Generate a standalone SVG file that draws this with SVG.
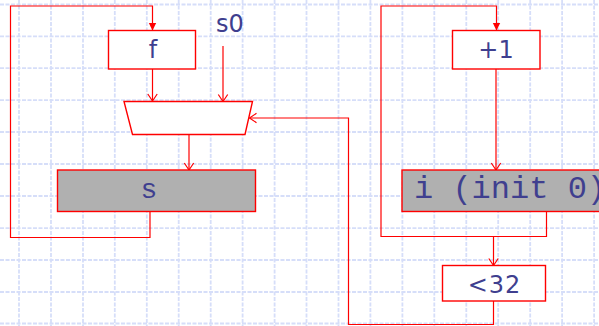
<svg xmlns="http://www.w3.org/2000/svg" width="599" height="326" viewBox="0 0 599 326">
<style>
.grid line{stroke:#d6def9;stroke-width:1.8;stroke-dasharray:4 1.5}
.box{fill:#fff;stroke:#f00;stroke-width:1.4}
.reg{fill:#b0b0b0;stroke:#f00;stroke-width:1.4}
.sans{font-family:"DejaVu Sans",Verdana,sans-serif;font-size:24px;fill:#3f3f8f;text-anchor:middle}
.mono{font-family:"Liberation Mono","Courier New",monospace;font-size:28px;fill:#3f3f8f}
.con{fill:none;stroke:#f00;stroke-width:1.2}
</style>
<defs>
<marker id="open" markerUnits="userSpaceOnUse" markerWidth="12" markerHeight="12" viewBox="0 0 12 12" refX="10" refY="6" orient="auto">
<path d="M3,1.3 L10,6 L3,10.7" fill="none" stroke="#f00" stroke-width="1.2"/>
</marker>
<marker id="fill" markerUnits="userSpaceOnUse" markerWidth="12" markerHeight="12" viewBox="0 0 12 12" refX="10" refY="6" orient="auto">
<path d="M2.5,2.3 L10,6 L2.5,9.7 Z" fill="#f00"/>
</marker>
</defs>
<rect width="599" height="326" fill="#fff"/>
<g class="grid">
<line x1="19" y1="0" x2="19" y2="326"/><line x1="51" y1="0" x2="51" y2="326"/><line x1="83" y1="0" x2="83" y2="326"/><line x1="114.8" y1="0" x2="114.8" y2="326"/><line x1="146.8" y1="0" x2="146.8" y2="326"/><line x1="178.7" y1="0" x2="178.7" y2="326"/><line x1="210.7" y1="0" x2="210.7" y2="326"/><line x1="242.6" y1="0" x2="242.6" y2="326"/><line x1="274.6" y1="0" x2="274.6" y2="326"/><line x1="306.5" y1="0" x2="306.5" y2="326"/><line x1="338.5" y1="0" x2="338.5" y2="326"/><line x1="370.4" y1="0" x2="370.4" y2="326"/><line x1="402.4" y1="0" x2="402.4" y2="326"/><line x1="434.3" y1="0" x2="434.3" y2="326"/><line x1="466.3" y1="0" x2="466.3" y2="326"/><line x1="498.2" y1="0" x2="498.2" y2="326"/><line x1="530.2" y1="0" x2="530.2" y2="326"/><line x1="562.1" y1="0" x2="562.1" y2="326"/><line x1="594.1" y1="0" x2="594.1" y2="326"/>
<line x1="0" y1="4.5" x2="599" y2="4.5"/><line x1="0" y1="36.3" x2="599" y2="36.3"/><line x1="0" y1="68.2" x2="599" y2="68.2"/><line x1="0" y1="100.1" x2="599" y2="100.1"/><line x1="0" y1="132" x2="599" y2="132"/><line x1="0" y1="164" x2="599" y2="164"/><line x1="0" y1="196" x2="599" y2="196"/><line x1="0" y1="228.2" x2="599" y2="228.2"/><line x1="0" y1="260" x2="599" y2="260"/><line x1="0" y1="292" x2="599" y2="292"/><line x1="0" y1="323.5" x2="599" y2="323.5"/>
</g>
<g id="connectors">
<path class="con" d="M152.5,69 V101" marker-end="url(#open)"/>
<path class="con" d="M223,46 V101.5" marker-end="url(#open)"/>
<path class="con" d="M189,134.5 V170" marker-end="url(#open)"/>
<path class="con" d="M150,211.5 V237.5 H10.5 V6 H152.5 V30.5" marker-end="url(#fill)"/>
<path class="con" d="M496,69 V170" marker-end="url(#open)"/>
<path class="con" d="M546.5,211.5 V236.5 H381 V6 H496.5 V30.5" marker-end="url(#fill)"/>
<path class="con" d="M493.5,236.5 V265.5" marker-end="url(#open)"/>
<path class="con" d="M493.5,301 V324.5 H348.5 V118 H249.5" marker-end="url(#open)"/>
</g>
<g id="node-f"><rect class="box" x="108.5" y="30.5" width="87" height="38.5"/><text class="sans" x="153" y="58">f</text></g>
<g id="node-s0"><text class="sans" x="230" y="32">s0</text></g>
<g id="node-mux"><polygon class="box" points="124,101.5 252.5,101.5 245,134.5 132.5,134.5"/></g>
<g id="node-s"><rect class="reg" x="57.5" y="170" width="198" height="41.5"/><text class="mono" x="149" y="198" text-anchor="middle">s</text></g>
<g id="node-inc"><rect class="box" x="452.5" y="30.5" width="87.5" height="38.5"/><text class="sans" x="496" y="57.5">+1</text></g>
<g id="node-i"><rect class="reg" x="402" y="170" width="210" height="41.5"/><text class="mono" x="414" y="198" style="font-size:32px">i (init 0)</text></g>
<g id="node-lt"><rect class="box" x="442.5" y="265.5" width="103" height="35.5"/><text class="sans" x="494.5" y="293" style="letter-spacing:1px">&lt;32</text></g>
</svg>
